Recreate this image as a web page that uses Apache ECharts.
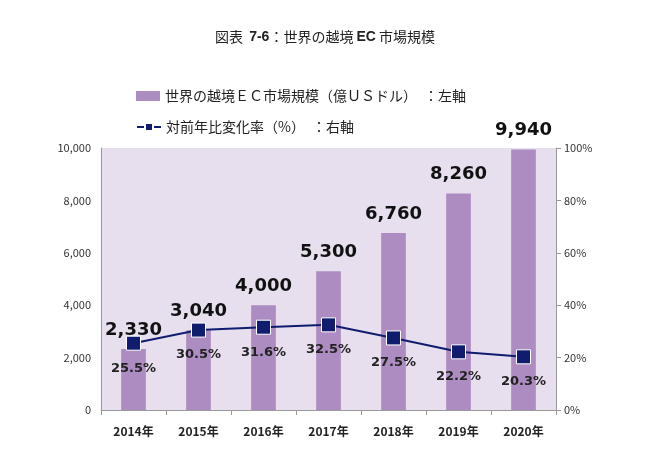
<!DOCTYPE html>
<html><head><meta charset="utf-8">
<script src="https://cdn.jsdelivr.net/npm/echarts@6/dist/echarts.min.js"></script>
<style>html,body{margin:0;padding:0;background:#fff}#c{width:650px;height:455px}</style>
</head><body><div id="c"></div>
<script>
const categories = ['2014年','2015年','2016年','2017年','2018年','2019年','2020年'];
const marketSize = [2330, 3040, 4000, 5300, 6760, 8260, 9940];
const growthRate = [25.5, 30.5, 31.6, 32.5, 27.5, 22.2, 20.3];
const barName = '世界の越境ＥＣ市場規模（億ＵＳドル）　：左軸';
const lineName = '対前年比変化率（%）　：右軸';

const font = '"Noto Sans CJK JP", "Noto Sans", sans-serif';
const chart = echarts.init(document.getElementById('c'));
chart.setOption({
  animation: false,
  textStyle: { fontFamily: font },
  title: { text: '図表  {b|7-6}：世界の越境 {b|EC} 市場規模', left: 'center', top: 25,
    textStyle: { fontSize: 14, fontWeight: 'normal', color: '#222', fontFamily: font,
      rich: { b: { fontSize: 14, fontWeight: 'bold', color: '#222', fontFamily: 'Arial, "Liberation Sans", sans-serif' } } } },
  legend: [
    { data: [barName], left: 131, top: 84, itemWidth: 24, itemHeight: 10, itemGap: 4,
      textStyle: { fontSize: 14, color: '#222' }, icon: 'rect' },
    { data: [lineName], left: 131, top: 115, itemWidth: 24, itemHeight: 10,
      textStyle: { fontSize: 14, color: '#222' } }
  ],
  grid: { left: 101, right: 94, top: 148, bottom: 45, show: true,
    backgroundColor: '#E7DEEE', borderWidth: 0 },
  xAxis: { type: 'category', data: categories,
    axisLine: { lineStyle: { color: '#999' } },
    axisTick: { show: true, alignWithLabel: false, length: 5, lineStyle: { color: '#999' } },
    axisLabel: { fontSize: 12, fontWeight: 'bold', color: '#222', margin: 15 } },
  yAxis: [
    { type: 'value', min: 0, max: 10000, interval: 2000,
      axisLine: { show: true, lineStyle: { color: '#999' } }, splitLine: { show: false },
      axisTick: { show: false },
      axisLabel: { fontSize: 11, color: '#333', margin: 10,
        formatter: v => v.toLocaleString('en-US') } },
    { type: 'value', min: 0, max: 100, interval: 20,
      axisLine: { show: true, lineStyle: { color: '#999' } }, splitLine: { show: false },
      axisTick: { show: true, length: 5, lineStyle: { color: '#999' } },
      axisLabel: { fontSize: 11, color: '#333', margin: 8, formatter: '{value}%' } }
  ],
  series: [
    { name: barName, type: 'bar', data: marketSize, barWidth: '38%',
      itemStyle: { color: '#AD8DC1' },
      label: { show: true, position: 'top', distance: 10, fontSize: 18, fontWeight: 'bold',
        color: '#111', fontFamily: 'Verdana, "DejaVu Sans", sans-serif',
        formatter: p => p.value.toLocaleString('en-US') } },
    { name: lineName, type: 'line', yAxisIndex: 1, data: growthRate,
      symbol: 'rect', symbolSize: 14, z: 5,
      lineStyle: { color: '#101D6E', width: 2 },
      itemStyle: { color: '#101D6E', borderColor: '#fff', borderWidth: 1 },
      label: { show: true, position: 'bottom', distance: 11, fontSize: 13, fontWeight: 'bold',
        color: '#222', fontFamily: 'Verdana, "DejaVu Sans", sans-serif',
        formatter: p => p.value.toFixed(1) + '%' } }
  ]
});
</script></body></html>
